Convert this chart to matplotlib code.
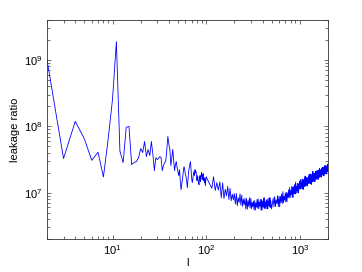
import numpy as np
import matplotlib
matplotlib.use("Agg")
import matplotlib.pyplot as plt
from matplotlib.ticker import LogLocator, FuncFormatter, NullFormatter

# multipole l, one value per integer l at low l
ell_low = list(range(2, 101))
# log10 of leakage ratio
log_ratio_low = [
    9.000, 7.515, 8.076, 7.814, 7.489, 7.611, 7.238, 7.818, 8.409, 9.277,
    7.626, 7.455, 7.985, 8.000, 7.424, 7.455, 7.470, 7.530, 7.667, 7.606,
    7.773, 7.545, 7.652, 7.561, 7.773, 7.576, 7.333, 7.530, 7.500, 7.515,
    7.545, 7.530, 7.333, 7.409, 7.455, 7.470, 7.652, 7.848, 7.727, 7.652,
    7.409, 7.530, 7.652, 7.500, 7.333, 7.424, 7.470, 7.379, 7.318, 7.258,
    7.348, 7.167, 7.045, 7.136, 7.227, 7.318, 7.394, 7.348, 7.273, 7.242,
    7.167, 7.076, 7.197, 7.318, 7.379, 7.424, 7.470, 7.348, 7.227, 7.152,
    7.197, 7.273, 7.318, 7.258, 7.348, 7.303, 7.318, 7.227, 7.182, 7.258,
    7.197, 7.136, 7.121, 7.212, 7.258, 7.167, 7.227, 7.303, 7.273, 7.197,
    7.258, 7.288, 7.182, 7.227, 7.152, 7.212, 7.106, 7.182, 7.242,
]

# sampled l values across the noisy band
ell_mid = list(range(110, 501, 5))
log_ratio_mid = [
    7.120, 7.067, 7.241, 7.034, 7.153, 7.039, 7.162, 6.925, 7.147, 6.912,
    7.052, 6.953, 7.096, 6.899, 7.066, 6.878, 6.979, 6.893, 6.986, 6.829,
    6.989, 6.806, 6.924, 6.853, 6.983, 6.812, 6.964, 6.794, 6.902, 6.820,
    6.917, 6.757, 6.914, 6.750, 6.881, 6.793, 6.924, 6.769, 6.918, 6.758,
    6.853, 6.788, 6.874, 6.741, 6.881, 6.738, 6.847, 6.783, 6.901, 6.767,
    6.904, 6.759, 6.859, 6.797, 6.898, 6.735, 6.899, 6.738, 6.875, 6.784,
    6.921, 6.769, 6.924, 6.761, 6.861, 6.799, 6.891, 6.755, 6.901, 6.758,
    6.867, 6.803, 6.922, 6.788, 6.924, 6.779, 6.880, 6.818, 6.755,
]

ell_high = list(range(520, 2001, 10))
log_ratio_high = [
    6.919, 6.788, 6.944, 6.792, 6.892, 6.836, 6.957, 6.791, 6.946, 6.787,
    6.947, 6.852, 6.982, 6.837, 7.017, 6.848, 6.945, 6.887, 7.000, 6.861,
    7.003, 6.864, 6.997, 6.928, 7.045, 6.920, 7.082, 6.930, 7.030, 6.974,
    7.096, 6.930, 7.086, 6.928, 7.090, 6.994, 7.125, 6.980, 7.160, 6.991,
    7.089, 7.030, 7.139, 7.002, 7.140, 6.999, 7.128, 7.061, 7.174, 7.053,
    7.196, 7.062, 7.147, 7.097, 7.204, 7.058, 7.192, 7.050, 7.193, 7.109,
    7.222, 7.093, 7.252, 7.103, 7.186, 7.132, 7.228, 7.108, 7.226, 7.100,
    7.214, 7.156, 7.252, 7.138, 7.279, 7.146, 7.229, 7.177, 7.282, 7.137,
    7.269, 7.126, 7.266, 7.183, 7.293, 7.163, 7.322, 7.173, 7.255, 7.201,
    7.296, 7.177, 7.294, 7.167, 7.280, 7.222, 7.318, 7.203, 7.330, 7.210,
    7.288, 7.244, 7.332, 7.209, 7.322, 7.201, 7.319, 7.248, 7.343, 7.232,
    7.365, 7.239, 7.310, 7.264, 7.344, 7.242, 7.343, 7.235, 7.330, 7.281,
    7.363, 7.266, 7.384, 7.271, 7.342, 7.297, 7.384, 7.262, 7.374, 7.253,
    7.370, 7.300, 7.394, 7.283, 7.415, 7.290, 7.360, 7.314, 7.393, 7.292,
    7.391, 7.283, 7.378, 7.329, 7.411, 7.314, 7.431, 7.319, 7.388,
]

ell = np.array(ell_low + ell_mid + ell_high, dtype=float)
ratio = 10.0 ** np.array(log_ratio_low + log_ratio_mid + log_ratio_high)

plt.rcParams["font.family"] = ["Liberation Sans", "DejaVu Sans"]
plt.rcParams["mathtext.fontset"] = "custom"
plt.rcParams["mathtext.rm"] = "Liberation Sans"

fig = plt.figure(figsize=(3.62, 2.72), dpi=100)
ax = fig.add_axes([0.130, 0.121, 0.776, 0.805])
ax.plot(ell, ratio, color="#0000ff", lw=0.6)

ax.set_xscale("log")
ax.set_yscale("log")
ax.set_xlim(2, 2000)
ax.set_ylim(2e6, 4e9)

fmt = FuncFormatter(lambda v, p: r"$\mathregular{10^{%d}}$" % round(np.log10(v)))
for axis in (ax.xaxis, ax.yaxis):
    axis.set_major_locator(LogLocator(base=10))
    axis.set_minor_locator(LogLocator(base=10, subs=np.arange(2, 10)))
    axis.set_major_formatter(fmt)
    axis.set_minor_formatter(NullFormatter())

ax.tick_params(which="both", direction="in", top=True, right=True,
               labelsize=8, width=0.5, color="#333333", pad=3)
ax.tick_params(which="major", length=3)
ax.tick_params(which="minor", length=2)
for s in ax.spines.values():
    s.set_linewidth(0.6)
    s.set_color("#333333")

ax.set_xlabel("l", fontsize=8, labelpad=1)
ax.set_ylabel("leakage ratio", fontsize=8, labelpad=3)

fig.savefig("out.png", dpi=100)
